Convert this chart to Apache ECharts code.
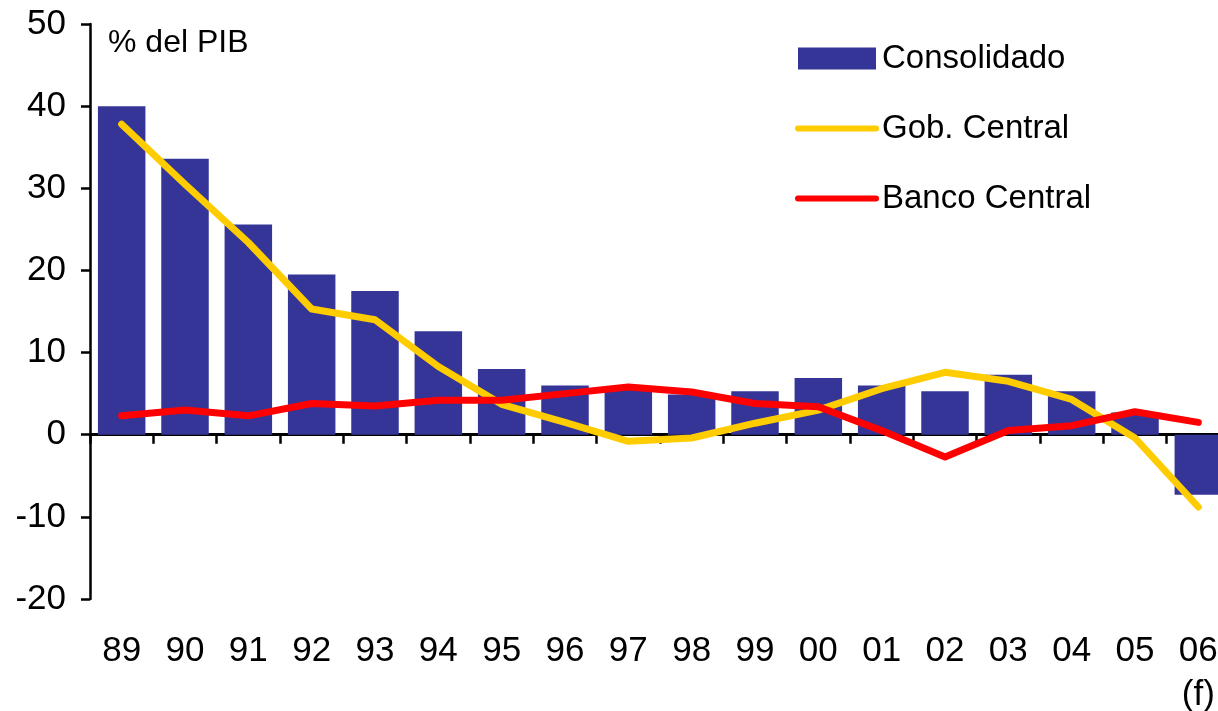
<!DOCTYPE html>
<html>
<head>
<meta charset="utf-8">
<script src="https://cdn.jsdelivr.net/npm/echarts@6/dist/echarts.min.js"></script>
<style>
    html, body { margin: 0; padding: 0; background: #fff; }
    #chart { width: 1218px; height: 711px; }
</style>
</head>
<body>
<div id="chart"></div>
<script>
// años (06 = proyección)
var years = ['89', '90', '91', '92', '93', '94', '95', '96', '97', '98', '99', '00', '01', '02', '03', '04', '05', '06\n(f)'];
// % del PIB
var consolidado = [40.0, 33.6, 25.6, 19.5, 17.5, 12.6, 8.0, 6.0, 5.5, 4.9, 5.3, 6.9, 6.0, 5.3, 7.3, 5.3, 2.7, -7.3];
var gobCentral = [37.8, 30.5, 23.4, 15.3, 14.0, 8.3, 3.7, 1.5, -0.8, -0.4, 1.4, 3.0, 5.6, 7.6, 6.5, 4.3, -0.4, -8.8];
var bancoCentral = [2.3, 3.0, 2.3, 3.8, 3.5, 4.2, 4.2, 5.0, 5.8, 5.2, 3.8, 3.4, 0.5, -2.7, 0.5, 1.1, 2.8, 1.5];
var yTicks = { min: -20, max: 50, step: 10 };

var font = '"Liberation Sans", Arial, sans-serif';
var chart = echarts.init(document.getElementById('chart'));

var option = {
    animation: false,
    textStyle: { fontFamily: font },
    title: {
        text: '% del PIB',
        left: 108,
        top: 27,
        padding: 0,
        textStyle: { color: '#000', fontSize: 32, fontWeight: 'normal', fontFamily: font }
    },
    legend: {
        orient: 'vertical',
        left: 795,
        top: 42,
        padding: 0,
        itemWidth: 78,
        itemHeight: 22,
        itemGap: 37,
        textStyle: { color: '#000', fontSize: 33, fontFamily: font, padding: [0, 0, 0, 1] },
        data: [
            { name: 'Consolidado', icon: 'rect' },
            { name: 'Gob. Central', itemStyle: { opacity: 0 }, lineStyle: { width: 6, cap: 'round' } },
            { name: 'Banco Central', itemStyle: { opacity: 0 }, lineStyle: { width: 6, cap: 'round' } }
        ]
    },
    grid: {
        left: 90,
        right: -12,
        top: 24,
        bottom: 112,
        containLabel: false,
        outerBoundsMode: 'none'
    },
    xAxis: [
        {
            // línea del cero con sus marcas
            type: 'category',
            data: years,
            position: 'bottom',
            axisLine: { onZero: true, lineStyle: { color: '#000', width: 3 } },
            axisTick: { show: true, length: 9, lineStyle: { color: '#000', width: 2.5 } },
            axisLabel: { show: false },
            splitLine: { show: false }
        },
        {
            // etiquetas de los años abajo
            type: 'category',
            data: years,
            position: 'bottom',
            axisLine: { show: false, onZero: false },
            axisTick: { show: false },
            axisLabel: {
                margin: 30,
                color: '#000',
                fontSize: 35,
                fontFamily: font,
                lineHeight: 44,
                interval: 0
            },
            splitLine: { show: false }
        }
    ],
    yAxis: {
        type: 'value',
        min: yTicks.min,
        max: yTicks.max,
        interval: yTicks.step,
        axisLine: { show: true, lineStyle: { color: '#000', width: 2.5 } },
        axisTick: { show: true, length: 9, lineStyle: { color: '#000', width: 2.5 } },
        axisLabel: { margin: 24, color: '#000', fontSize: 35, fontFamily: font },
        splitLine: { show: false }
    },
    series: [
        {
            name: 'Consolidado',
            type: 'bar',
            data: consolidado,
            barCategoryGap: '25%',
            itemStyle: { color: '#353598' },
            z: 1
        },
        {
            name: 'Gob. Central',
            type: 'line',
            data: gobCentral,
            symbol: 'none',
            lineStyle: { color: '#FFCC00', width: 7, cap: 'round', join: 'round' },
            itemStyle: { color: '#FFCC00' },
            z: 2
        },
        {
            name: 'Banco Central',
            type: 'line',
            data: bancoCentral,
            symbol: 'none',
            lineStyle: { color: '#FF0000', width: 7, cap: 'round', join: 'round' },
            itemStyle: { color: '#FF0000' },
            z: 3
        }
    ]
};
chart.setOption(option);
</script>
</body>
</html>
